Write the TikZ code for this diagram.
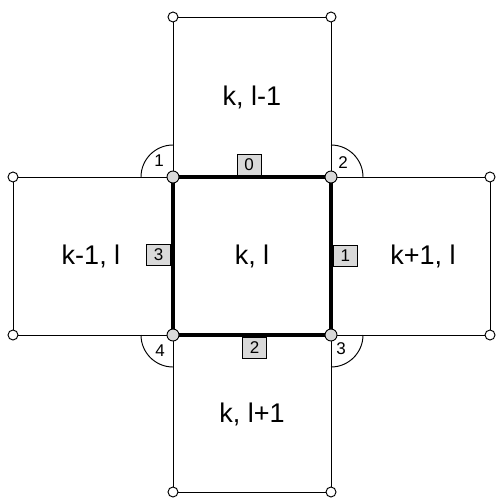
\documentclass[tikz,border=0pt]{standalone}
\usepackage{fontspec}
\setmainfont{Liberation Sans}
\begin{document}
\begin{tikzpicture}[x=1pt,y=-1pt,
  thinline/.style={line width=0.95pt},
  thickline/.style={line width=3.5pt},
  outerdot/.style={circle,draw,fill=white,line width=0.95pt,inner sep=0pt,minimum size=10pt},
  innerdot/.style={circle,draw,fill=black!15,line width=0.95pt,inner sep=0pt,minimum size=12pt},
  edgebox/.style={draw,fill=black!15,line width=0.9pt,inner sep=0pt,minimum width=24pt,minimum height=21pt,font=\fontsize{17}{19}\selectfont},
  celltext/.style={font=\fontsize{27}{30}\selectfont},
  anglabel/.style={font=\fontsize{17}{19}\selectfont}]
\useasboundingbox (0,0) rectangle (495,500);
% corners
\coordinate (A) at (173,177);
\coordinate (B) at (331,177);
\coordinate (C) at (331,335);
\coordinate (D) at (173,335);
\coordinate (T1) at (173,17);
\coordinate (T2) at (331,17);
\coordinate (L1) at (13,177);
\coordinate (L2) at (13,335);
\coordinate (R1) at (490,177);
\coordinate (R2) at (490,335);
\coordinate (B1) at (173,492);
\coordinate (B2) at (331,492);
% outer squares
\draw[thinline] (A) -- (T1) -- (T2) -- (B);
\draw[thinline] (A) -- (L1) -- (L2) -- (D);
\draw[thinline] (B) -- (R1) -- (R2) -- (C);
\draw[thinline] (D) -- (B1) -- (B2) -- (C);
% arcs
\draw[thinline] ([xshift=-32pt]A) arc[start angle=180,end angle=90,radius=32pt];
\draw[thinline] ([yshift=32pt]B) arc[start angle=90,end angle=0,radius=32pt];
\draw[thinline] ([xshift=32pt]C) arc[start angle=0,end angle=-90,radius=32pt];
\draw[thinline] ([yshift=-32pt]D) arc[start angle=-90,end angle=-180,radius=32pt];
% central square
\draw[thickline] (A) -- (B) -- (C) -- (D) -- cycle;
% cell labels
\node[celltext] (ckl) at (252,256) {k, l};
\node[celltext] (ctop) at (252,97) {k, l-1};
\node[celltext] (cleft) at (91,256) {k-1, l};
\node[celltext] (cright) at (423,256) {k+1, l};
\node[celltext] (cbot) at (252,414) {k, l+1};
% angle labels
\node[anglabel] (a1) at (159,161) {1};
\node[anglabel] (a2) at (343,163) {2};
\node[anglabel] (a3) at (341,349) {3};
\node[anglabel] (a4) at (160,351) {4};
% edge boxes
\node[edgebox,anchor=south] (e0) at (249,175.5) {0};
\node[edgebox,anchor=west] (e1) at (333,255.5) {1};
\node[edgebox,anchor=north] (e2) at (254.5,336.5) {2};
\node[edgebox,anchor=east] (e3) at (171,254.5) {3};
% dots
\foreach \p in {T1,T2,L1,L2,R1,R2,B1,B2} \node[outerdot] (d\p) at (\p) {};
\foreach \p in {A,B,C,D} \node[innerdot] (d\p) at (\p) {};
\end{tikzpicture}
\end{document}
